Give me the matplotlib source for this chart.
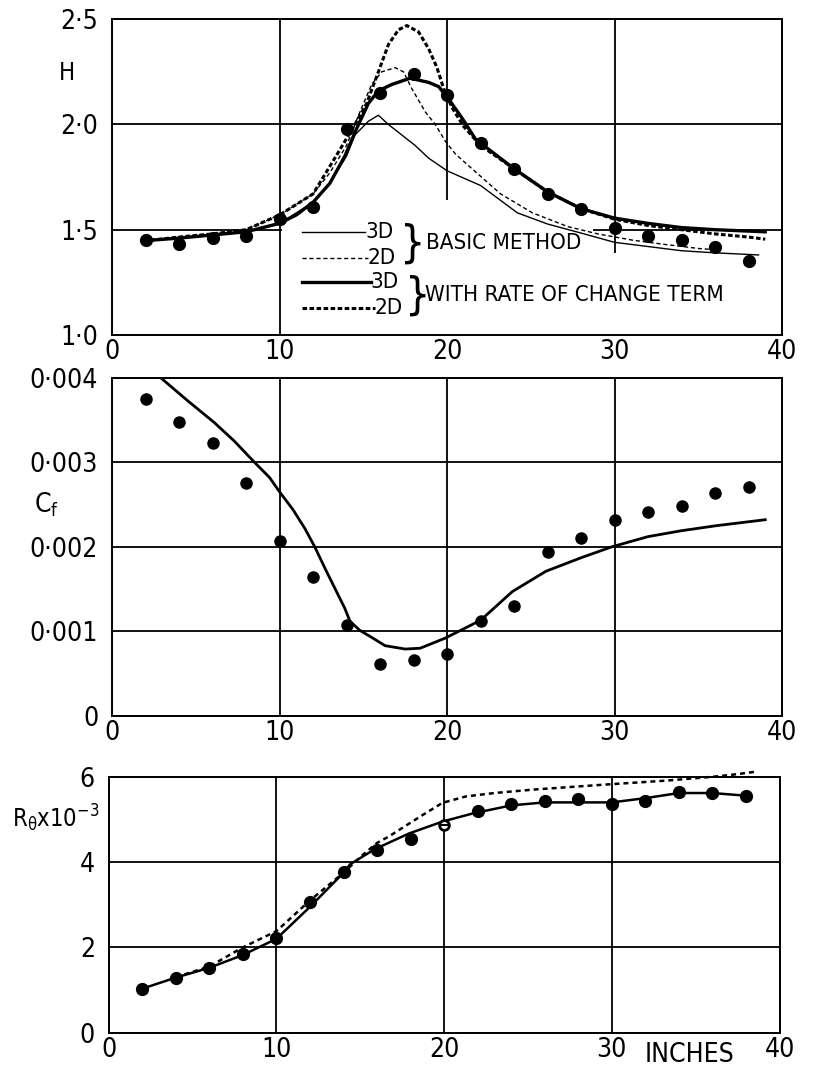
import numpy as np
import matplotlib
matplotlib.use("Agg")
import matplotlib.pyplot as plt
from matplotlib.patches import Rectangle

plt.rcParams['font.family'] = ['DejaVu Sans']
plt.rcParams['font.stretch'] = 'condensed'
plt.rcParams['mathtext.default'] = 'regular'

# measured stations (inches)
x_meas = [2, 4, 6, 8, 10, 12, 14, 16, 18, 20, 22, 24, 26, 28, 30, 32, 34, 36, 38]

# shape factor H
H_meas = [1.45, 1.43, 1.46, 1.47, 1.55, 1.61, 1.98, 2.15, 2.24, 2.14, 1.91, 1.79,
          1.67, 1.60, 1.51, 1.47, 1.45, 1.42, 1.35]

x_3d_basic = [2.3, 4, 6, 8, 10, 12, 13, 14, 14.5, 15.3, 15.9, 16.5, 17.3, 18.1, 18.9,
              20, 21, 22, 24.2, 26, 28, 30, 32, 34, 36, 38.6]
H_3d_basic = [1.45, 1.46, 1.475, 1.49, 1.53, 1.63, 1.72, 1.85, 1.95, 2.015, 2.044,
              2.0, 1.95, 1.90, 1.84, 1.78, 1.745, 1.71, 1.58, 1.527, 1.484, 1.44,
              1.42, 1.40, 1.39, 1.38]

x_2d_basic = [2.3, 4, 6, 8, 10, 12, 13, 14, 14.8, 15.5, 16.1, 16.9, 17.4, 17.9, 18.7,
              19.3, 19.9, 20.5, 21.2, 23.2, 25.1, 27.2, 29, 31.1, 33, 35.1, 36]
H_2d_basic = [1.45, 1.465, 1.48, 1.50, 1.57, 1.67, 1.77, 1.90, 2.06, 2.19, 2.25, 2.27,
              2.25, 2.17, 2.06, 2.0, 1.92, 1.86, 1.81, 1.67, 1.58, 1.515, 1.48, 1.45,
              1.43, 1.41, 1.405]

x_3d_rate = [2.3, 4, 6, 8, 10, 11, 12, 13, 13.9, 14.6, 15.3, 15.9, 16.7, 17.8, 18.9,
             19.5, 20.1, 20.9, 21.7, 24, 26, 28, 30, 32, 34, 36, 39]
H_3d_rate = [1.45, 1.46, 1.475, 1.49, 1.53, 1.57, 1.63, 1.72, 1.85, 1.98, 2.10, 2.16,
             2.19, 2.22, 2.20, 2.18, 2.12, 2.03, 1.93, 1.79, 1.68, 1.60, 1.555, 1.53,
             1.51, 1.50, 1.49]

x_2d_rate = [2.3, 4, 6, 8, 10, 12, 13.3, 14.5, 15.2, 15.9, 16.5, 17.1, 17.6, 18.3,
             18.9, 19.4, 19.8, 20.3, 21, 22, 24, 26, 28, 30, 32, 34, 36, 38, 39]
H_2d_rate = [1.45, 1.465, 1.48, 1.50, 1.57, 1.67, 1.84, 2.0, 2.10, 2.25, 2.38, 2.45,
             2.47, 2.44, 2.36, 2.27, 2.17, 2.08, 1.99, 1.90, 1.79, 1.68, 1.60, 1.55,
             1.52, 1.50, 1.48, 1.465, 1.455]

# skin friction coefficient
Cf_meas = [0.00375, 0.00348, 0.00323, 0.00275, 0.00207, 0.00164, 0.00107, 0.00061,
           0.00066, 0.00073, 0.00112, 0.00130, 0.00194, 0.00210, 0.00232, 0.00241,
           0.00248, 0.00264, 0.00271]
x_cf_calc = [2.9, 4.5, 6.1, 7.3, 8.5, 9.4, 10, 10.8, 11.5, 12.1, 12.7, 13.3, 13.9,
             14.2, 14.8, 15.4, 16.3, 17.5, 18.4, 19.9, 22, 23.9, 25.9, 28, 29.85, 32,
             34, 36.1, 39]
Cf_calc = [0.0040, 0.00373, 0.00347, 0.00325, 0.0030, 0.00282, 0.00265, 0.00244,
           0.00222, 0.0020, 0.00175, 0.00151, 0.00127, 0.00112, 0.00101, 0.00094,
           0.00083, 0.00079, 0.0008, 0.00092, 0.00113, 0.00147, 0.00171, 0.00187,
           0.0020, 0.00212, 0.00219, 0.00225, 0.00232]

# momentum thickness Reynolds number (x 10^-3)
R_meas = [1.03, 1.29, 1.52, 1.84, 2.22, 3.06, 3.76, 4.28, 4.55, 4.88, 5.20, 5.37,
          5.44, 5.49, 5.37, 5.43, 5.64, 5.63, 5.54]
R_open = 20  # station plotted with an open symbol
x_r_3d = [2, 4, 6, 8, 10, 12, 14, 14.4, 15.85, 17.9, 19.9, 21.7, 24, 26, 28, 30, 32,
          34, 36, 38.2]
R_3d = [1.03, 1.29, 1.52, 1.82, 2.2, 2.95, 3.75, 3.95, 4.3, 4.67, 4.95, 5.14, 5.33,
        5.40, 5.40, 5.40, 5.50, 5.62, 5.62, 5.55]
x_r_2d = [4, 6, 8, 10, 12, 14, 15, 16, 16.7, 18.7, 19.9, 21.3, 23, 25.3, 29.3, 33.2,
          36, 37.2, 38.6]
R_2d = [1.30, 1.55, 2.0, 2.38, 3.1, 3.75, 4.12, 4.45, 4.6, 5.1, 5.39, 5.54, 5.62,
        5.70, 5.81, 5.91, 6.0, 6.05, 6.12]

fig = plt.figure(figsize=(8.18, 10.70), dpi=100)
ax1 = fig.add_axes([0.137, 0.687, 0.819, 0.295])
ax2 = fig.add_axes([0.137, 0.331, 0.819, 0.316])
ax3 = fig.add_axes([0.133, 0.035, 0.820, 0.239])

TICK_FS = 19
MS = 8.5


def style(ax, yticks, ylabels, xlabels):
    ax.set_xlim(0, 40)
    ax.set_xticks([0, 10, 20, 30, 40])
    ax.set_xticklabels(xlabels)
    ax.set_yticks(yticks)
    ax.set_yticklabels(ylabels)
    ax.set_ylim(yticks[0], yticks[-1])
    ax.tick_params(length=0, labelsize=TICK_FS)
    ax.tick_params(axis='y', pad=10)
    ax.tick_params(axis='x', pad=3)
    ax.grid(True, color='black', linewidth=1.3)
    ax.set_axisbelow(True)
    for s in ax.spines.values():
        s.set_linewidth(1.4)


# --- H ---
style(ax1, [1.0, 1.5, 2.0, 2.5], ['1·0', '1·5', '2·0', '2·5'],
      ['0', '10', '20', '30', '40'])
# blank the grid behind the key
ax1.add_patch(Rectangle((10.15, 1.0), 18.55, 0.64, facecolor='white',
                        edgecolor='none', zorder=0.8))
ax1.add_patch(Rectangle((28.7, 1.0), 11.0, 0.39, facecolor='white',
                        edgecolor='none', zorder=0.8))
ax1.plot(x_3d_basic, H_3d_basic, color='black', lw=1.0, zorder=2)
ax1.plot(x_2d_basic, H_2d_basic, color='black', lw=1.0, dashes=(3, 2), zorder=2)
ax1.plot(x_3d_rate, H_3d_rate, color='black', lw=2.4, zorder=2)
ax1.plot(x_2d_rate, H_2d_rate, color='black', lw=2.2, dashes=(1.5, 0.8), zorder=2)
ax1.plot(x_meas, H_meas, 'o', color='black', ms=MS, zorder=3)

# key
KEY_FS = 16
kx0, kx1 = 0.283, 0.378
key = [(0.327, 1.0, None, '3D', 0.0), (0.243, 1.0, (3, 2), '2D', 0.004),
       (0.167, 2.4, None, '3D', 0.008), (0.085, 2.2, (1.5, 0.8), '2D', 0.014)]
for ky, lw, ds, lab, dx in key:
    kw = dict(color='black', lw=lw, transform=ax1.transAxes, zorder=2)
    if ds:
        kw['dashes'] = ds
    ax1.plot([kx0, kx1 + dx], [ky, ky], **kw)
    ax1.text(kx1 + dx, ky, lab, fontsize=KEY_FS,
             transform=ax1.transAxes, va='center', ha='left')
ax1.text(0.449, 0.287, '}', fontsize=32, transform=ax1.transAxes,
         va='center', ha='center', fontweight='light')
ax1.text(0.469, 0.291, 'BASIC METHOD', fontsize=KEY_FS, transform=ax1.transAxes,
         va='center', ha='left')
ax1.text(0.456, 0.122, '}', fontsize=32, transform=ax1.transAxes,
         va='center', ha='center', fontweight='light')
ax1.text(0.467, 0.127, 'WITH RATE OF CHANGE TERM', fontsize=KEY_FS,
         transform=ax1.transAxes, va='center', ha='left')

# --- Cf ---
style(ax2, [0, 0.001, 0.002, 0.003, 0.004],
      ['0', '0·001', '0·002', '0·003', '0·004'],
      ['0', '10', '20', '30', '40'])
ax2.plot(x_cf_calc, Cf_calc, color='black', lw=2.0, zorder=2)
ax2.plot(x_meas, Cf_meas, 'o', color='black', ms=MS - 0.5, zorder=3)

# --- R_theta ---
style(ax3, [0, 2, 4, 6], ['0', '2', '4', '6'],
      ['0', '10', '20', '30', '40'])
ax3.plot(x_r_3d, R_3d, color='black', lw=1.8, zorder=2)
ax3.plot(x_r_2d, R_2d, color='black', lw=1.8, dashes=(2, 1.6), zorder=2,
         clip_on=False)
closed = [i for i, x in enumerate(x_meas) if x != R_open]
ax3.plot([x_meas[i] for i in closed], [R_meas[i] for i in closed], 'o',
         color='black', ms=MS, zorder=3)
io = x_meas.index(R_open)
ax3.plot([R_open], [R_meas[io]], 'o', mfc='white', mec='black', mew=2.0,
         ms=7, zorder=3)
ax3.plot([R_open], [R_meas[io]], '_', color='black', mew=1.5, ms=6, zorder=4)
ax3.text(34.6, -0.52, 'INCHES', fontsize=TICK_FS, ha='center', va='center')

# axis titles
fig.text(0.082, 0.932, 'H', fontsize=17, ha='center', va='center')
fig.text(0.057, 0.528, r'$C_f$', fontsize=19, ha='center', va='center')
fig.text(0.068, 0.235, r'$R_\theta$x$10^{-3}$', fontsize=17, ha='center',
         va='center')

fig.savefig('out.png', dpi=100)
